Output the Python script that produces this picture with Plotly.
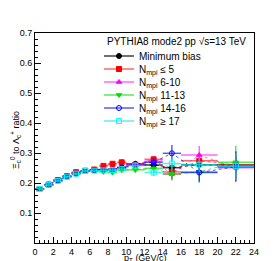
import plotly.graph_objects as go

# bin centres and half-widths (GeV/c)
pt = [0.5, 1.5, 2.5, 3.5, 4.5, 5.5, 6.5, 7.5, 8.5, 9.5, 11, 13, 15, 18, 22]
pt_halfwidth = [0.5, 0.5, 0.5, 0.5, 0.5, 0.5, 0.5, 0.5, 0.5, 0.5, 1, 1, 1, 2, 2]

names = ["Minimum bias", "N<sub>mpi</sub> ≤ 5", "N<sub>mpi</sub> 6-10",
         "N<sub>mpi</sub> 11-13", "N<sub>mpi</sub> 14-16", "N<sub>mpi</sub> ≥ 17"]
header = "PYTHIA8 mode2 pp √s=13 TeV"
x_ticks = list(range(0, 25, 2))
y_ticks = [0.1, 0.2, 0.3, 0.4, 0.5, 0.6, 0.7]
y_tick_labels = ["0.1", "0.2", "0.3", "0.4", "0.5", "0.6", "0.7"]

mb = [0.180, 0.194, 0.208, 0.222, 0.232, 0.240, 0.243, 0.244, 0.246, 0.251, 0.260, 0.260, 0.251, 0.261, 0.260]
n5 = [0.180, 0.195, 0.210, 0.223, 0.236, 0.241, 0.245, 0.257, 0.264, 0.269, 0.261, 0.279, 0.237, 0.274, 0.260]
n6_10 = [0.180, 0.194, 0.208, 0.221, 0.233, 0.240, 0.242, 0.243, 0.245, 0.251, 0.262, 0.273, 0.230, 0.293, 0.251]
n11_13 = [0.180, 0.194, 0.207, 0.221, 0.231, 0.239, 0.241, 0.237, 0.235, 0.243, 0.244, 0.249, 0.230, 0.237, 0.269]
n14_16 = [0.180, 0.194, 0.208, 0.222, 0.232, 0.240, 0.243, 0.245, 0.244, 0.252, 0.264, 0.269, 0.299, 0.235, 0.254]
n17 = [0.180, 0.193, 0.207, 0.221, 0.231, 0.240, 0.241, 0.242, 0.243, 0.246, 0.258, 0.235, 0.265, 0.261, 0.256]

err_mb = [0.002, 0.002, 0.002, 0.002, 0.003, 0.003, 0.003, 0.004, 0.004, 0.005, 0.005, 0.007, 0.010, 0.012, 0.025]
err_n5 = [0.003, 0.003, 0.003, 0.004, 0.005, 0.005, 0.006, 0.007, 0.008, 0.010, 0.010, 0.011, 0.022, 0.025, 0.047]
err_n6_10 = [0.003, 0.003, 0.003, 0.004, 0.004, 0.005, 0.006, 0.007, 0.008, 0.009, 0.010, 0.012, 0.020, 0.030, 0.045]
err_n11_13 = [0.003, 0.003, 0.003, 0.004, 0.004, 0.005, 0.006, 0.007, 0.008, 0.009, 0.010, 0.012, 0.022, 0.030, 0.055]
err_n14_16 = [0.003, 0.003, 0.003, 0.004, 0.004, 0.005, 0.006, 0.007, 0.008, 0.009, 0.010, 0.014, 0.028, 0.033, 0.050]
err_n17 = [0.003, 0.003, 0.003, 0.004, 0.004, 0.005, 0.006, 0.007, 0.008, 0.009, 0.010, 0.012, 0.020, 0.025, 0.045]

series = [mb, n5, n6_10, n11_13, n14_16, n17]
errors = [err_mb, err_n5, err_n6_10, err_n11_13, err_n14_16, err_n17]
colors = ["#000000", "#ff0000", "#ff00ff", "#00e000", "#0000ff", "#00ffff"]
line_colors = ["rgba(0,0,0,0.75)", "rgba(255,0,0,0.6)", "rgba(255,0,255,0.6)",
               "rgba(0,220,0,0.65)", "rgba(0,0,255,0.65)", "rgba(0,230,230,0.65)"]
symbols = ["circle", "square", "triangle-up", "triangle-down", "circle-open", "square-open"]
sizes = [5, 5, 5, 5, 5, 5]

FONT = "Liberation Sans, Arial, sans-serif"
L, R, T, B = 27, 28, 25, 26
W, H = 274, 261
PW, PH = W - L - R, H - T - B


def px_to_paper_x(px):
    return (px - L) / PW


def px_to_paper_y(py):
    return (H - B - py) / PH


fig = go.Figure()

for y, e, c, lc, s, sz in zip(series, errors, colors, line_colors, symbols, sizes):
    fig.add_trace(go.Scatter(
        x=pt, y=y, mode="lines+markers", showlegend=False,
        line=dict(color=lc, width=1, dash="dot"),
        marker=dict(color=c, symbol=s, size=sz, line=dict(color=c, width=1)),
        error_x=dict(type="data", array=pt_halfwidth, width=0, color=lc, thickness=1.5),
        error_y=dict(type="data", array=e, width=0, color=lc, thickness=1.5),
    ))

# legend entries, one small legend per row so rows sit at the reference spacing
row_y_px = [48, 61, 74, 87, 100, 113]
legend_layouts = {}
for i, (name, c, lc, s, sz) in enumerate(zip(names, colors, line_colors, symbols, sizes)):
    key = "legend" if i == 0 else f"legend{i + 1}"
    fig.add_trace(go.Scatter(
        x=[None], y=[None], mode="lines+markers", name=name, legend=key,
        line=dict(color=lc, width=1.5),
        marker=dict(color=c, symbol=s, size=sz, line=dict(color=c, width=1)),
    ))
    legend_layouts[key] = dict(
        x=px_to_paper_x(91), y=px_to_paper_y(row_y_px[i]),
        xanchor="left", yanchor="middle",
        bgcolor="rgba(0,0,0,0)", borderwidth=0,
        font=dict(family=FONT, size=10, color="black"),
        itemwidth=30,
    )

axis_common = dict(
    showgrid=False, zeroline=False, showline=True, linecolor="black", linewidth=1,
    mirror=True, ticks="inside", ticklen=6, tickcolor="black", tickwidth=1,
    tickfont=dict(family=FONT, size=9, color="black"), automargin=False,
)

fig.update_layout(
    width=W, height=H,
    margin=dict(l=L, r=R, t=T, b=B),
    paper_bgcolor="white", plot_bgcolor="white",
    font=dict(family=FONT, size=10, color="black"),
    xaxis=dict(range=[0, 24], tickvals=x_ticks,
               minor=dict(dtick=0.5, ticks="inside", ticklen=3, tickcolor="black"),
               **axis_common),
    yaxis=dict(range=[0, 0.7], tickvals=y_ticks, ticktext=y_tick_labels,
               minor=dict(dtick=0.02, ticks="inside", ticklen=3, tickcolor="black"),
               **axis_common),
    annotations=[
        dict(text=header, xref="paper", yref="paper",
             x=px_to_paper_x(97), y=px_to_paper_y(34), xanchor="left", yanchor="middle",
             showarrow=False, font=dict(family=FONT, size=10)),
        dict(text="Ξ<sub>c</sub><sup>0</sup> to Λ<sub>c</sub><sup>+</sup> ratio",
             textangle=-90, xref="paper", yref="paper",
             x=px_to_paper_x(7), y=px_to_paper_y(132),
             xanchor="center", yanchor="middle", showarrow=False,
             font=dict(family=FONT, size=9)),
        dict(text="p<sub>T</sub> (GeV/c)", xref="paper", yref="paper",
             x=px_to_paper_x(137), y=px_to_paper_y(250), xanchor="center", yanchor="middle",
             showarrow=False, font=dict(family=FONT, size=9)),
    ],
    **legend_layouts,
)

fig.write_html("out.html")
